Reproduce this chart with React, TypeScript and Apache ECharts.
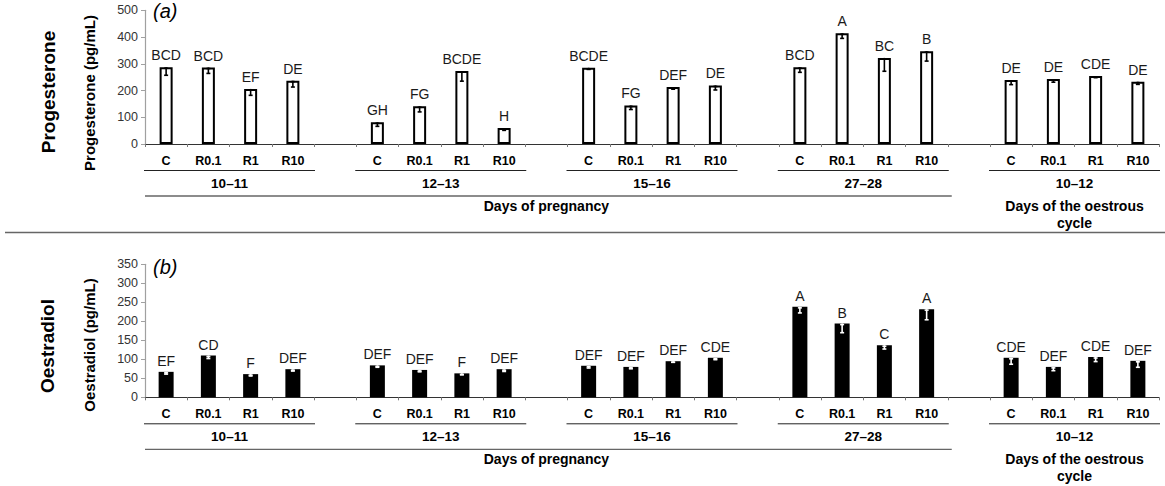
import React, { useEffect, useRef } from "react";
import * as echarts from "echarts";

const groups = ["10–11", "12–13", "15–16", "27–28", "10–12"];
const treatments = ["C", "R0.1", "R1", "R10"];
const yTicksProg = [0, 100, 200, 300, 400, 500];
const yTicksOes = [0, 50, 100, 150, 200, 250, 300, 350];

const progMeans = [287, 286, 206, 237, 81, 141, 273, 60, 285, 144, 213, 219, 287, 414, 322, 347, 239, 243, 254, 233];
const progErr = [30, 22, 24, 24, 15, 21, 38, 9, 6, 15, 8, 17, 19, 19, 50, 37, 17, 12, 6, 10];
const progLetters = ["BCD", "BCD", "EF", "DE", "GH", "FG", "BCDE", "H", "BCDE", "FG", "DEF", "DE", "BCD", "A", "BC", "B", "DE", "DE", "CDE", "DE"];

const oesMeans = [67, 110, 61, 74, 84, 72, 63, 74, 83, 80, 95, 104, 238, 194, 137, 232, 104, 80, 106, 96];
const oesErr = [6, 8, 5, 5, 5, 5, 4, 6, 6, 5, 3, 5, 16, 24, 10, 28, 17, 10, 12, 17];
const oesLetters = ["EF", "CD", "F", "DEF", "DEF", "DEF", "F", "DEF", "DEF", "DEF", "DEF", "CDE", "A", "B", "C", "A", "CDE", "DEF", "CDE", "DEF"];

const FONT = "'Liberation Sans', Arial, Helvetica, sans-serif";

// build category axis with a blank slot between groups
const categories: string[] = [];
const catIndexOf: number[] = []; // index in 24-slot axis for each of 20 values
groups.forEach((g, gi) => {
  treatments.forEach((t) => {
    catIndexOf.push(categories.length);
    categories.push(t);
  });
  if (gi < groups.length - 1) categories.push("");
});

function spread(vals: number[]): (number | string)[] {
  const out: (number | string)[] = categories.map(() => "-");
  vals.forEach((v, i) => (out[catIndexOf[i]] = v));
  return out;
}
function spreadText(vals: string[]): string[] {
  const out: string[] = categories.map(() => "");
  vals.forEach((v, i) => (out[catIndexOf[i]] = v));
  return out;
}

const GRID_LEFT = 145;
const GRID_RIGHT = 6;

export default function App() {
  const ref = useRef<HTMLDivElement>(null);
  useEffect(() => {
    const chart = echarts.init(ref.current!, null, { renderer: "svg" });
    const progLab = spreadText(progLetters);
    const oesLab = spreadText(oesLetters);

    const xAxisBase = (gridIndex: number) => ({
      type: "category",
      gridIndex,
      data: categories,
      boundaryGap: true,
      axisLine: { show: true, lineStyle: { color: "#333", width: 1 } },
      axisTick: { show: true, interval: 0, length: 3, lineStyle: { color: "#777" } },
      axisLabel: {
        interval: 0,
        margin: 10,
        fontFamily: FONT,
        fontWeight: "bold",
        fontSize: 12.5,
        color: "#000",
      },
      splitLine: { show: false },
    });
    const yAxisBase = (gridIndex: number, ticks: number[]) => ({
      type: "value",
      gridIndex,
      min: ticks[0],
      max: ticks[ticks.length - 1],
      interval: ticks[1] - ticks[0],
      axisLine: { show: true, lineStyle: { color: "#a0a0a0", width: 1.2 } },
      axisTick: { show: true, length: 4, lineStyle: { color: "#a0a0a0" } },
      axisLabel: { fontFamily: FONT, fontSize: 12.5, color: "#333", margin: 7 },
      splitLine: { show: false },
    });

    const errSeries = (gridIndex: number, means: number[], errs: number[], color: string) => ({
      type: "custom",
      xAxisIndex: gridIndex,
      yAxisIndex: gridIndex,
      z: 5,
      data: means.map((m, i) => [catIndexOf[i], m, errs[i]]),
      encode: { x: 0, y: 1 },
      renderItem: (params: any, api: any) => {
        const x = api.value(0);
        const y = api.value(1);
        const e = api.value(2);
        const top = api.coord([x, y]);
        const bot = api.coord([x, y - e]);
        const h = 2;
        const style = { stroke: color, lineWidth: 1.6 };
        return {
          type: "group",
          children: [
            { type: "line", shape: { x1: top[0], y1: top[1], x2: bot[0], y2: bot[1] }, style },
            { type: "line", shape: { x1: top[0] - h, y1: top[1] + 1, x2: top[0] + h, y2: top[1] + 1 }, style },
            { type: "line", shape: { x1: bot[0] - h, y1: bot[1], x2: bot[0] + h, y2: bot[1] }, style },
          ],
        };
      },
    });

    const letterLabel = (lab: string[], distance: number) => ({
      show: true,
      position: "top",
      distance,
      fontFamily: FONT,
      fontSize: 14,
      color: "#1a1a1a",
      formatter: (p: any) => lab[p.dataIndex],
    });

    chart.setOption({
      animation: false,
      grid: [
        { left: GRID_LEFT, right: GRID_RIGHT, top: 10.3, height: 133.7 },
        { left: GRID_LEFT, right: GRID_RIGHT, top: 264.3, height: 133 },
      ],
      xAxis: [xAxisBase(0), xAxisBase(1)],
      yAxis: [yAxisBase(0, yTicksProg), yAxisBase(1, yTicksOes)],
      series: [
        {
          type: "bar",
          xAxisIndex: 0,
          yAxisIndex: 0,
          barWidth: 13,
          data: spread(progMeans),
          itemStyle: { color: "#fff", borderColor: "#000", borderWidth: 2 },
          label: letterLabel(progLab, 5),
        },
        errSeries(0, progMeans, progErr, "#000"),
        {
          type: "bar",
          xAxisIndex: 1,
          yAxisIndex: 1,
          barWidth: 15,
          data: spread(oesMeans),
          itemStyle: { color: "#000" },
          label: letterLabel(oesLab, 4),
        },
        errSeries(1, oesMeans, oesErr, "#fff"),
      ],
    });

    // decorations computed from the chart's own scales
    const graphics: any[] = [];
    const boldText = (x: number, y: number, text: string, size: number, rotation = 0) => ({
      type: "text",
      x,
      y,
      rotation,
      style: {
        text,
        fontFamily: FONT,
        fontWeight: "bold",
        fontSize: size,
        fill: "#000",
        align: "center",
        verticalAlign: "middle",
      },
    });
    [0, 1].forEach((gi) => {
      const cx = (i: number) => chart.convertToPixel({ xAxisIndex: gi } as any, i) as number;
      const band = cx(1) - cx(0);
      const ay = chart.convertToPixel({ yAxisIndex: gi } as any, 0) as number;
      groups.forEach((g, k) => {
        const first = catIndexOf[k * 4];
        const last = catIndexOf[k * 4 + 3];
        const x0 = cx(first) - band / 2;
        const x1 = cx(last) + band / 2;
        graphics.push({
          type: "line",
          shape: { x1: x0 - 1, y1: ay + 26.5, x2: x1 + 1, y2: ay + 26.5 },
          style: { stroke: "#222", lineWidth: 1 },
        });
        graphics.push(boldText((x0 + x1) / 2, ay + 39, g, 13.5));
      });
      const pStart = cx(catIndexOf[0]) - band / 2;
      const pEnd = cx(catIndexOf[15]) + band / 2;
      graphics.push({
        type: "line",
        shape: { x1: pStart, y1: ay + 52, x2: pEnd + 4, y2: ay + 52 },
        style: { stroke: "#666", lineWidth: 1.3 },
      });
      graphics.push(boldText((pStart + pEnd) / 2, ay + 62, "Days of pregnancy", 14));
      const oStart = cx(catIndexOf[16]) - band / 2;
      const oEnd = cx(catIndexOf[19]) + band / 2;
      graphics.push(boldText((oStart + oEnd) / 2, ay + 62, "Days of the oestrous", 14));
      graphics.push(boldText((oStart + oEnd) / 2, ay + 78.5, "cycle", 14));
    });

    // rotated titles and panel letters
    graphics.push(boldText(48, 92, "Progesterone", 19, Math.PI / 2));
    graphics.push(boldText(89.5, 93, "Progesterone (pg/mL)", 15, Math.PI / 2));
    graphics.push(boldText(47, 346, "Oestradiol", 19, Math.PI / 2));
    graphics.push(boldText(89.5, 345, "Oestradiol (pg/mL)", 15, Math.PI / 2));
    const panel = (x: number, y: number, t: string) => ({
      type: "text",
      x,
      y,
      style: {
        text: t,
        fontFamily: FONT,
        fontStyle: "italic",
        fontSize: 20,
        fill: "#000",
        align: "left",
        verticalAlign: "middle",
      },
    });
    graphics.push(panel(153, 11, "(a)"));
    graphics.push(panel(153, 266.5, "(b)"));
    graphics.push({
      type: "line",
      shape: { x1: 5, y1: 232.5, x2: 1165, y2: 232.5 },
      style: { stroke: "#666", lineWidth: 1.6 },
    });

    chart.setOption({ graphic: graphics });

    return () => chart.dispose();
  }, []);
  return (
    <div
      ref={ref}
      style={{ position: "absolute", left: 0, top: 0, width: 1165, height: 486, background: "#fff" }}
    />
  );
}
